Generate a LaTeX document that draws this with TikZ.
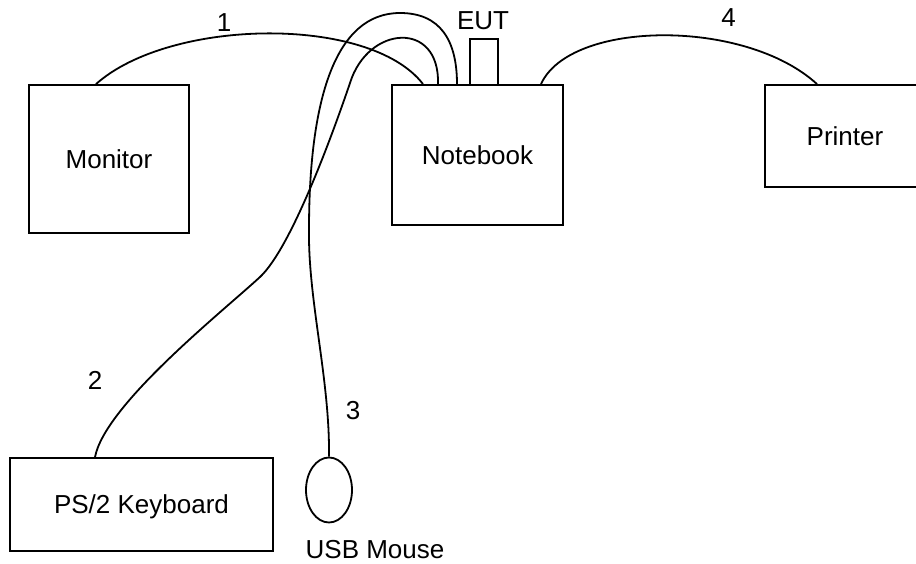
\documentclass[tikz,border=0pt]{standalone}
\usepackage{fontspec}
\setmainfont{Liberation Sans}
\usetikzlibrary{shapes.geometric}

\begin{document}
\begin{tikzpicture}[x=1pt, y=-1pt, line width=1.8pt, font=\fontsize{26}{30}\selectfont]
	\clip (0,0) rectangle (916,564);
	\begin{scope}[every node/.style={draw, rectangle, inner sep=0pt, text height=18.6pt, text depth=0pt}]
		\node[minimum width=160pt, minimum height=148pt] (monitor)  at (109,159)   {Monitor};
		\node[minimum width=171pt, minimum height=140pt] (notebook) at (477.5,155) {Notebook};
		\node[minimum width=28pt,  minimum height=46pt]  (eut)      at (484,62)    {};
		\node[minimum width=160pt, minimum height=102pt] (printer)  at (845,136)   {Printer};
		\node[minimum width=263pt, minimum height=93pt]  (keyboard) at (141.5,504.5) {PS/2 Keyboard};
	\end{scope}
	\node[draw, ellipse, inner sep=0pt, minimum width=46pt, minimum height=65pt] (mouse) at (329,490) {};
	\begin{scope}[every node/.style={anchor=base}]
		\node (eutlabel)   at (483,30)  {EUT};
		\node (mouselabel) at (375,558) {USB Mouse};
		\node (cable1) at (224,32)  {1};
		\node (cable2) at (95,389)  {2};
		\node (cable3) at (353,419) {3};
		\node (cable4) at (728.5,27) {4};
	\end{scope}
	% cables
	\draw ([xshift=-13pt]monitor.north) .. controls (170,18) and (370,15) .. ([xshift=-54.5pt]notebook.north);
	\draw ([xshift=-46.5pt]keyboard.north) .. controls (105,405) and (222,312) .. (260,277)
		.. controls (292,247) and (334,130) .. (350,83)
		.. controls (368,25) and (440,20) .. ([xshift=-39.5pt]notebook.north);
	\draw (mouse.north) .. controls (330,380) and (308,300) .. (309,230)
		.. controls (309,100) and (335,13) .. (400,13)
		.. controls (440,13) and (457,40) .. ([xshift=-20.5pt]notebook.north);
	\draw ([xshift=63.5pt]notebook.north) .. controls (570,20) and (745,18) .. ([xshift=-28pt]printer.north);
\end{tikzpicture}
\end{document}
